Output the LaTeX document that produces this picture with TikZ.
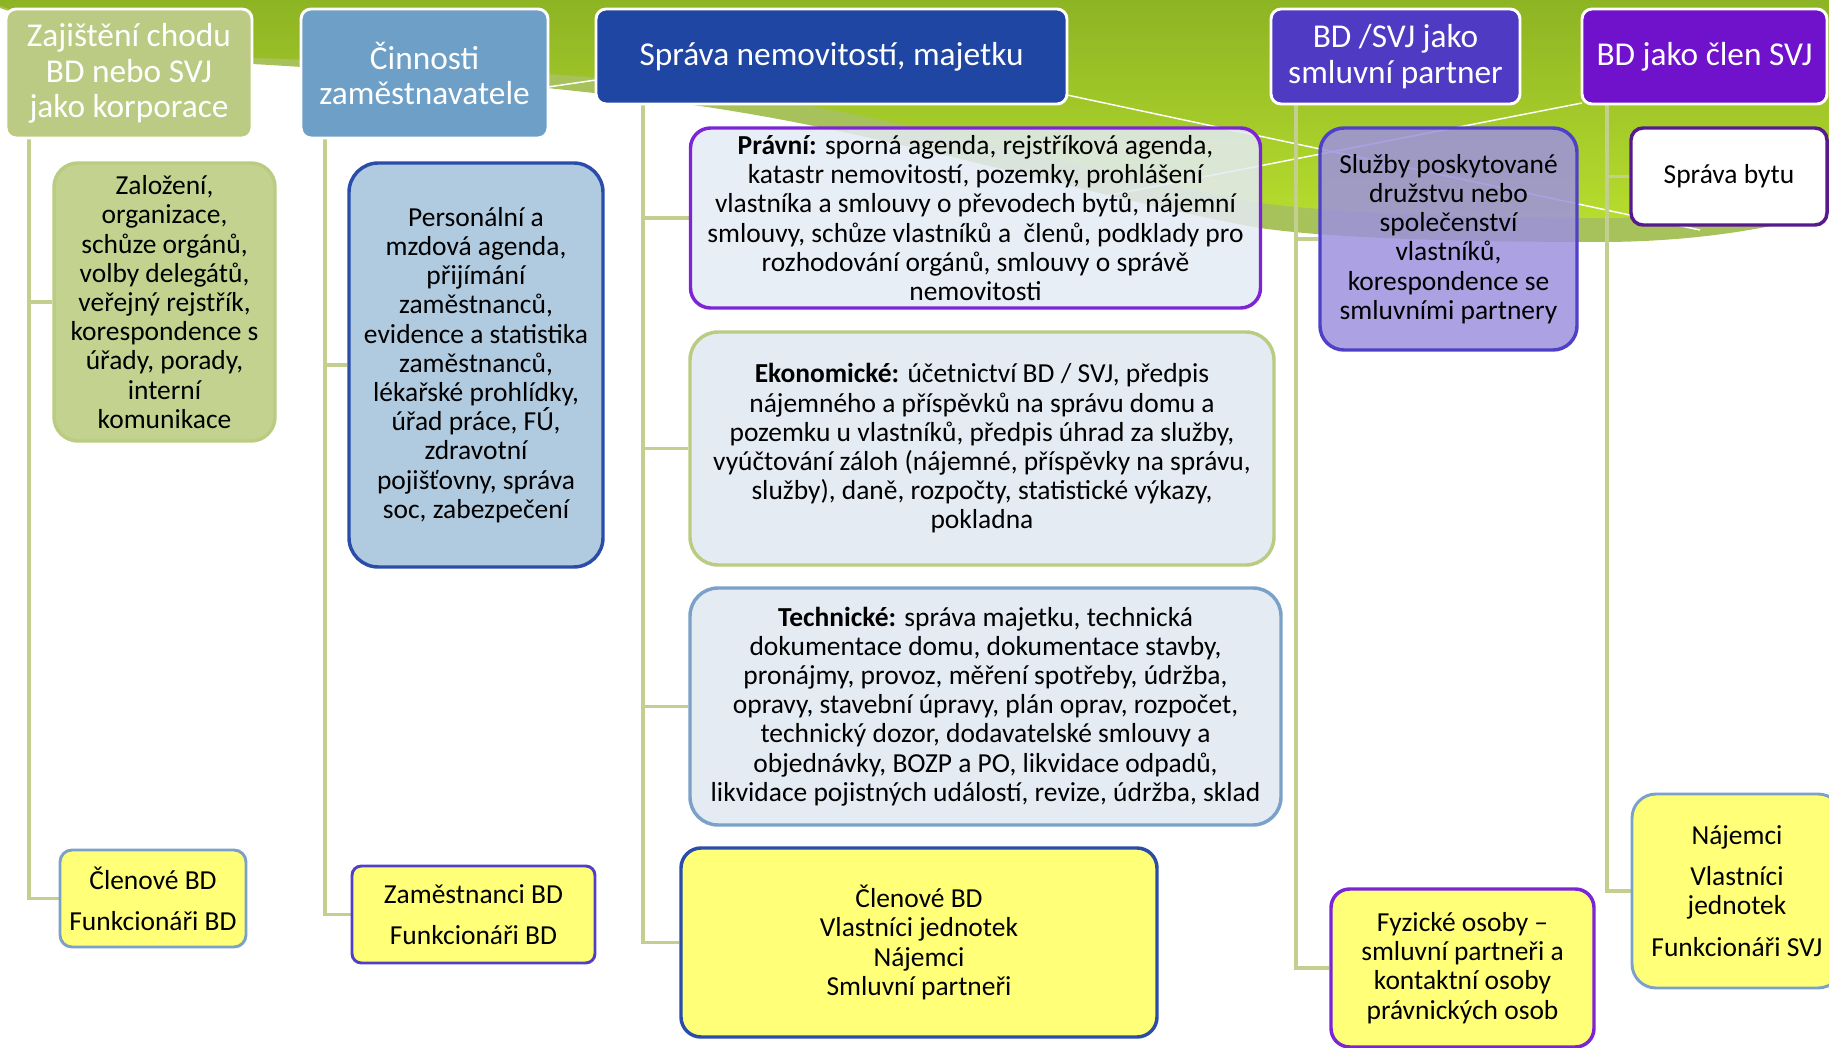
\documentclass[tikz,border=0pt]{standalone}
\usepackage{fontspec}
\setmainfont{Carlito}
\definecolor{olivetop}{HTML}{8DB423}
\definecolor{limemid}{HTML}{B6DC2E}
\definecolor{bandcol}{HTML}{A7C25A}
\definecolor{hA}{HTML}{BCCB84}
\definecolor{hB}{HTML}{6E9FC6}
\definecolor{hC}{HTML}{2046A3}
\definecolor{hD}{HTML}{4F3AC3}
\definecolor{hE}{HTML}{7012CC}
\definecolor{greenfill}{HTML}{C3D38F}
\definecolor{greenline}{HTML}{BACB82}
\definecolor{bluefill}{HTML}{B0CADF}
\definecolor{darkblue}{HTML}{2A4DAA}
\definecolor{palefill}{HTML}{E4EBF3}
\definecolor{violetline}{HTML}{7D24D6}
\definecolor{skyline}{HTML}{7BA1C9}
\definecolor{yellowfill}{HTML}{FFFF78}
\definecolor{indigoline}{HTML}{5040C8}
\definecolor{lilacfill}{HTML}{9D91DE}
\definecolor{plumline}{HTML}{561A8E}
\definecolor{conncol}{HTML}{C2CF8E}
\pgfdeclarelayer{back}
\pgfdeclarelayer{links}
\pgfsetlayers{back,links,main}
\tikzset{
  sz/.style 2 args={minimum width=#1*0.75pt, minimum height=#2*0.75pt},
  hdr/.style={draw=white, line width=2.2pt, rounded corners=7.5pt, text=white,
    font=\fontsize{25}{26.5}\selectfont, align=center, inner sep=0pt},
  card/.style={font=\fontsize{20.6}{21.9}\selectfont, align=center, inner sep=0pt,
    line width=2.6pt},
  conn/.style={draw=conncol, line width=2.6pt},
  deco/.style={draw=white, line width=1.1pt},
}
\begin{document}
\begin{tikzpicture}[x=0.75pt,y=-0.75pt]
\useasboundingbox (0,0) rectangle (1829,1048);

% header boxes
\node[hdr, fill=hA, sz={246}{129}] (h1) at (129,73.5) {Zajištění chodu\\BD nebo SVJ\\jako korporace};
\node[hdr, fill=hB, sz={247}{129}] (h2) at (424.5,73.5) {Činnosti\\zaměstnavatele};
\node[hdr, fill=hC, sz={471}{95}] (h3) at (831.5,56.5) {Správa nemovitostí, majetku};
\node[hdr, fill=hD, sz={249}{95}] (h4) at (1395.5,56.5) {BD /SVJ jako\\smluvní partner};
\node[hdr, fill=hE, sz={245}{95}] (h5) at (1704.5,56.5) {BD jako člen SVJ};

% activity boxes
\node[card, rounded corners=18pt, fill=greenfill, draw=greenline, sz={221}{278}] (c1) at (164.5,302)
  {Založení,\\organizace,\\schůze orgánů,\\volby delegátů,\\veřejný rejstřík,\\korespondence s\\úřady, porady,\\interní\\komunikace};
\node[card, rounded corners=22pt, fill=bluefill, draw=darkblue, sz={254}{404}] (c2) at (476,365)
  {Personální a\\mzdová agenda,\\přijímání\\zaměstnanců,\\evidence a statistika\\zaměstnanců,\\lékařské prohlídky,\\úřad práce, FÚ,\\zdravotní\\pojišťovny, správa\\soc, zabezpečení};
\node[card, rounded corners=15pt, fill=palefill, fill opacity=0.85, text opacity=1, draw=violetline, sz={570}{180}] (c3) at (975.5,218)
  {\textbf{Právní:} sporná agenda, rejstříková agenda,\\katastr nemovitostí, pozemky, prohlášení\\vlastníka a smlouvy o převodech bytů, nájemní\\smlouvy, schůze vlastníků a\ \ členů, podklady pro\\rozhodování orgánů, smlouvy o správě\\nemovitosti};
\node[card, rounded corners=21pt, fill=palefill, draw=greenline, sz={584}{233}] (c4) at (982,448.5)
  {\textbf{Ekonomické:} účetnictví BD / SVJ, předpis\\nájemného a příspěvků na správu domu a\\pozemku u vlastníků, předpis úhrad za služby,\\vyúčtování záloh (nájemné, příspěvky na správu,\\služby), daně, rozpočty, statistické výkazy,\\pokladna};
\node[card, rounded corners=21pt, fill=palefill, draw=skyline, sz={591}{237}] (c5) at (985.5,706.5)
  {\textbf{Technické:} správa majetku, technická\\dokumentace domu, dokumentace stavby,\\pronájmy, provoz, měření spotřeby, údržba,\\opravy, stavební úpravy, plán oprav, rozpočet,\\technický dozor, dodavatelské smlouvy a\\objednávky, BOZP a PO, likvidace odpadů,\\likvidace pojistných událostí, revize, údržba, sklad};
\node[card, rounded corners=15pt, fill=yellowfill, draw=darkblue, sz={476}{189}] (c6) at (919,942.5)
  {Členové BD\\Vlastníci jednotek\\Nájemci\\Smluvní partneři};
\node[card, rounded corners=18pt, fill=lilacfill, fill opacity=0.85, text opacity=1, draw=indigoline, sz={257}{222}] (c7) at (1448.5,239)
  {Služby poskytované\\družstvu nebo\\společenství\\vlastníků,\\korespondence se\\smluvními partnery};
\node[card, rounded corners=9pt, fill=white, draw=plumline, sz={196}{97}] (c8) at (1729,176.5)
  {Správa bytu};
\node[card, rounded corners=9pt, fill=yellowfill, draw=skyline, line width=2.2pt, sz={186}{97}] (c9) at (153,898.5)
  {Členové BD\\[9pt]Funkcionáři BD};
\node[card, rounded corners=7pt, fill=yellowfill, draw=indigoline, line width=2.2pt, sz={243}{97}] (c10) at (473.5,914.5)
  {Zaměstnanci BD\\[9pt]Funkcionáři BD};
\node[card, rounded corners=14pt, fill=yellowfill, draw=violetline, sz={263}{158}] (c11) at (1462.5,968)
  {Fyzické osoby –\\smluvní partneři a\\kontaktní osoby\\právnických osob};
\node[card, rounded corners=18pt, fill=yellowfill, draw=skyline, line width=2.2pt, sz={210}{194}] (c12) at (1737,891)
  {Nájemci\\[9pt]Vlastníci\\jednotek\\[9pt]Funkcionáři SVJ};

% background swoosh and its white strokes
\begin{pgfonlayer}{back}
  \fill[bandcol] (0,0) -- (1829,0) -- (1829,212)
    .. controls (1760,232) and (1680,242) .. (1600,242)
    .. controls (1450,242) and (1330,238) .. (1260,228)
    .. controls (1100,200) and (900,135) .. (700,106)
    .. controls (600,92) and (400,72) .. (252,64)
    .. controls (150,55) and (50,25) .. (0,8) -- cycle;
  \shade[top color=olivetop, bottom color=limemid] (0,0) -- (1829,0) -- (1829,192)
    .. controls (1760,210) and (1680,218) .. (1600,218)
    .. controls (1450,218) and (1330,212) .. (1260,203)
    .. controls (1100,175) and (900,115) .. (700,88)
    .. controls (600,76) and (400,62) .. (252,58)
    .. controls (150,50) and (50,22) .. (0,6) -- cycle;
  \draw[deco] (1067,95) -- (1700,230);
  \draw[deco] (1582,103) -- (1085,200);
  \draw[deco] (548,87) -- (596,80);
\end{pgfonlayer}

% trunk lines from each header to its boxes
\coordinate (t1) at (29,138);
\coordinate (t2) at (325,138);
\coordinate (t3) at (643,104);
\coordinate (t4) at (1296,104);
\coordinate (t5) at (1607,104);
\begin{pgfonlayer}{links}
  \draw[conn] (t1) |- (c1.west);
  \draw[conn] (t1) |- (c9.west);
  \draw[conn] (t2) |- (c2.west);
  \draw[conn] (t2) |- (c10.west);
  \draw[conn] (t3) |- (c3.west);
  \draw[conn] (t3) |- (c4.west);
  \draw[conn] (t3) |- (c5.west);
  \draw[conn] (t3) |- (c6.west);
  \draw[conn] (t4) |- (c7.west);
  \draw[conn] (t4) |- (c11.west);
  \draw[conn] (t5) |- (c8.west);
  \draw[conn] (t5) |- (c12.west);
\end{pgfonlayer}
\end{tikzpicture}
\end{document}
